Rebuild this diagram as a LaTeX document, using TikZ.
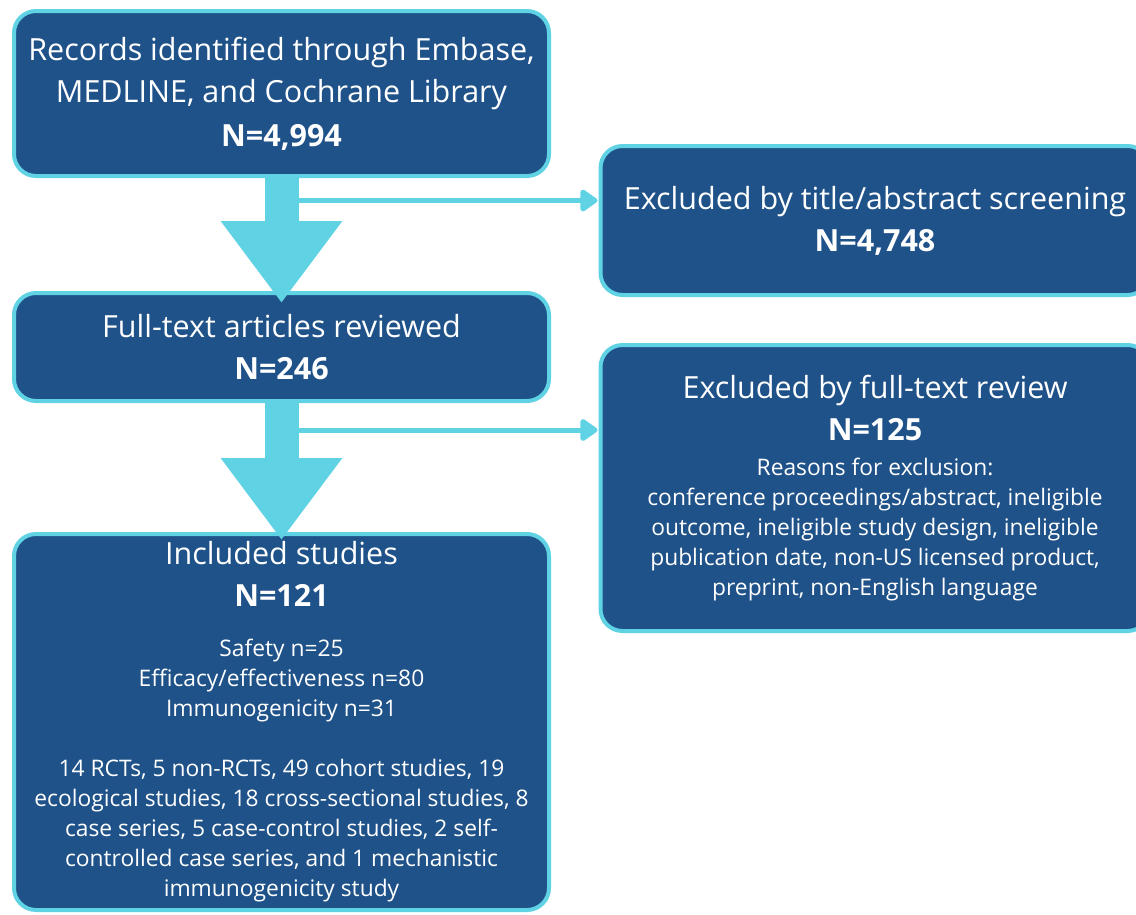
\documentclass[tikz,border=0pt]{standalone}
\usepackage{fontspec}
\setmainfont{Open Sans}
\usetikzlibrary{arrows.meta}
\definecolor{boxblue}{HTML}{1F5289}
\definecolor{boxcyan}{HTML}{5FD2E4}
\newcommand{\bigtxt}{\fontsize{30.5}{42}\selectfont}
\newcommand{\smalltxt}{\fontsize{22.8}{30}\selectfont}
\begin{document}
\begin{tikzpicture}[x=1pt,y=-1pt,
flowbox/.style={draw=boxcyan,line width=4pt,fill=boxblue,rounded corners=22pt,text=white,align=flush center,inner sep=0pt,font=\bigtxt},
bigarrow/.style={draw=boxcyan,line width=34pt,-{Triangle[length=82pt,width=116pt]}},
thinarrow/.style={draw=boxcyan,line width=5pt,shorten >=1pt,-{Triangle[length=19pt,width=25pt,round]}}]
\useasboundingbox (0,0) rectangle (1136,914);
\clip (0,0) rectangle (1136,914);
\node[flowbox,minimum width=535pt,minimum height=165pt,text width=530pt] (rec) at (281.5,93.5)
{Records identified through Embase,\\MEDLINE, and Cochrane Library\\[2pt]\textbf{N=4,994}};
\node[flowbox,minimum width=549pt,minimum height=149pt,text width=540pt] (excl1) at (875,220.5)
{Excluded by title/abstract screening\\\textbf{N=4,748}};
\node[flowbox,minimum width=535pt,minimum height=108pt,text width=530pt] (full) at (281.5,347)
{Full-text articles reviewed\\\textbf{N=246}};
\node[flowbox,minimum width=549pt,minimum height=286pt,text width=540pt] (excl2) at (875,488)
{{\bigtxt Excluded by full-text review\\\textbf{N=125}\par}\vspace{5pt}
{\smalltxt Reasons for exclusion:\\conference proceedings/abstract, ineligible\\outcome, ineligible study design, ineligible\\publication date, non-US licensed product,\\preprint, non-English language\par}};
\node[flowbox,minimum width=535pt,minimum height=376pt,text width=530pt] (incl) at (281.5,722)
{{\bigtxt Included studies\\\textbf{N=121}\par}\vspace{20pt}
{\smalltxt Safety n=25\\Efficacy/effectiveness n=80\\Immunogenicity n=31\\[30pt]
14 RCTs, 5 non-RCTs, 49 cohort studies, 19\\ecological studies, 18 cross-sectional studies, 8\\case series, 5 case-control studies, 2 self-\\controlled case series, and 1 mechanistic\\immunogenicity study\par}};
\coordinate (t1) at (299,200.5);
\coordinate (t2) at (299,430);
\draw[thinarrow] (t1) -- (t1 -| excl1.west);
\draw[thinarrow] (t2) -- (t2 -| excl2.west);
\draw[bigarrow] (rec.south) -- ([yshift=-12pt]full.north);
\draw[bigarrow] (full.south) -- ([yshift=-8pt]incl.north);
\end{tikzpicture}
\end{document}
